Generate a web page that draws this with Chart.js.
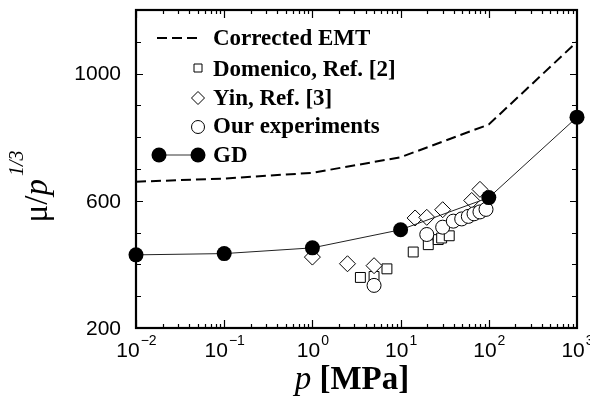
<!DOCTYPE html>
<html>
<head>
<meta charset="utf-8">
<script src="https://cdn.jsdelivr.net/npm/chart.js@4.4.1/dist/chart.umd.min.js"></script>
<style>
  html, body { margin: 0; padding: 0; background: #fff; }
  canvas { display: block; }
</style>
</head>
<body>
<canvas id="chart" width="590" height="396"></canvas>
<script>
// values (p in MPa, y = mu / p^(1/3))
const gdP = [0.01, 0.1, 1, 10, 100, 1000];
const gdVal = [430, 434, 452, 509, 610, 863];

const emtP = [0.01, 0.1, 1, 10, 100, 1000];
const emtVal = [660, 670, 688, 737, 840, 1100];

const domenicoP = [3.5, 5.0, 7.0, 13.9, 20.6, 26.7, 29.2, 35.6];
const domenicoVal = [359, 362, 386, 439, 462, 478, 483, 490];

const yinP = [1.0, 2.5, 5.0, 14.6, 19.8, 30, 64, 79.4];
const yinVal = [423, 402, 396, 546, 548, 572, 601, 636];

const oursP = [5.0, 19.8, 30, 39.6, 49.3, 58.6, 68, 79.4, 93];
const oursVal = [334, 494, 517, 536, 543, 551, 559, 565, 573];

const xDecades = [-2, -1, 0, 1, 2, 3];
const yTicks = [200, 300, 400, 500, 600, 700, 800, 900, 1000, 1100, 1200];
const yLabels = [200, 600, 1000];

const toPoints = (xs, ys) => xs.map((x, i) => ({ x: x, y: ys[i] }));

const SANS = '"Liberation Sans", Arial, sans-serif';
const SERIF = '"Liberation Serif", "Times New Roman", serif';

// frame, inward ticks, labels, titles and legend
const decorPlugin = {
    id: 'decor',
    afterDatasetsDraw(chart) {
        const ctx = chart.ctx;
        const a = chart.chartArea;
        const xs = chart.scales.x;
        const ys = chart.scales.y;
        ctx.save();
        ctx.strokeStyle = '#000';
        ctx.fillStyle = '#000';

        // ticks
        ctx.lineWidth = 1.2;
        ctx.beginPath();
        for (let d = -2; d < 3; d++) {
            for (let m = 1; m < 10; m++) {
                const px = Math.round(xs.getPixelForValue(m * Math.pow(10, d))) + 0.5;
                const len = m === 1 ? 8 : 4;
                ctx.moveTo(px, a.bottom); ctx.lineTo(px, a.bottom - len);
                ctx.moveTo(px, a.top); ctx.lineTo(px, a.top + len);
            }
        }
        yTicks.forEach(v => {
            const py = Math.round(ys.getPixelForValue(v)) + 0.5;
            const len = yLabels.includes(v) ? 7 : 5;
            ctx.moveTo(a.left, py); ctx.lineTo(a.left + len, py);
            ctx.moveTo(a.right, py); ctx.lineTo(a.right - len, py);
        });
        ctx.stroke();

        // frame
        ctx.lineWidth = 2.2;
        ctx.strokeRect(a.left, a.top, a.right - a.left, a.bottom - a.top);

        // y tick labels
        ctx.font = '21px ' + SANS;
        ctx.textAlign = 'right';
        ctx.textBaseline = 'middle';
        yLabels.forEach(v => {
            ctx.fillText(String(v), a.left - 15, ys.getPixelForValue(v) + 1);
        });

        // x tick labels 10^n
        ctx.textBaseline = 'alphabetic';
        ctx.textAlign = 'left';
        xDecades.forEach(e => {
            const px = xs.getPixelForValue(Math.pow(10, e));
            const exp = e < 0 ? '\u2212' + Math.abs(e) : String(e);
            ctx.font = '21px ' + SANS;
            const wb = ctx.measureText('10').width;
            ctx.font = '14px ' + SANS;
            const we = ctx.measureText(exp).width;
            const x0 = px - (wb + we) / 2;
            ctx.font = '21px ' + SANS;
            ctx.fillText('10', x0, a.bottom + 29);
            ctx.font = '14px ' + SANS;
            ctx.fillText(exp, x0 + wb + 1, a.bottom + 17);
        });

        // x title: p [MPa]
        ctx.font = 'italic 33px ' + SERIF;
        const wp = ctx.measureText('p').width;
        ctx.font = 'bold 33px ' + SERIF;
        const wr = ctx.measureText(' [MPa]').width;
        let tx = 352 - (wp + wr) / 2;
        ctx.font = 'italic 33px ' + SERIF;
        ctx.fillText('p', tx, 389);
        ctx.font = 'bold 33px ' + SERIF;
        ctx.fillText(' [MPa]', tx + wp, 389);

        // y title: mu / p^(1/3), rotated
        ctx.save();
        ctx.translate(47, 188);
        ctx.rotate(-Math.PI / 2);
        const parts = [
            { t: '\u03bc', f: '33px ' + SERIF, dy: 0 },
            { t: '/', f: '33px ' + SERIF, dy: 0 },
            { t: 'p', f: 'italic 33px ' + SERIF, dy: 0 },
            { t: '1/3', f: 'italic 20px ' + SERIF, dy: -24 }
        ];
        let total = 0;
        parts.forEach(p => { ctx.font = p.f; p.w = ctx.measureText(p.t).width; total += p.w; });
        let cx = -total / 2;
        parts.forEach(p => {
            ctx.font = p.f;
            ctx.fillText(p.t, cx, p.dy);
            cx += p.w + (p.t === 'p' ? 3 : 0);
        });
        ctx.restore();

        // legend
        ctx.font = 'bold 23px ' + SERIF;
        ctx.lineWidth = 2;
        ctx.setLineDash([10, 5]);
        ctx.beginPath();
        ctx.moveTo(157, 38); ctx.lineTo(197, 38);
        ctx.stroke();
        ctx.setLineDash([]);
        ctx.fillText('Corrected EMT', 213, 45);

        ctx.lineWidth = 1;
        ctx.fillStyle = '#fff';
        ctx.beginPath();
        ctx.rect(194, 64, 8, 8);
        ctx.fill(); ctx.stroke();
        ctx.beginPath();
        ctx.moveTo(198, 91.5); ctx.lineTo(204.5, 98); ctx.lineTo(198, 104.5); ctx.lineTo(191.5, 98); ctx.closePath();
        ctx.fill(); ctx.stroke();
        ctx.beginPath();
        ctx.arc(198, 127, 6.5, 0, Math.PI * 2);
        ctx.fill(); ctx.stroke();

        ctx.fillStyle = '#000';
        ctx.strokeStyle = '#333';
        ctx.beginPath();
        ctx.moveTo(159, 155); ctx.lineTo(198, 155);
        ctx.stroke();
        ctx.beginPath(); ctx.arc(159, 155, 7.5, 0, Math.PI * 2); ctx.fill();
        ctx.beginPath(); ctx.arc(198, 155, 7.5, 0, Math.PI * 2); ctx.fill();

        ctx.fillText('Domenico, Ref. [2]', 213, 76);
        ctx.fillText('Yin, Ref. [3]', 213, 105);
        ctx.fillText('Our experiments', 213, 133);
        ctx.fillText('GD', 213, 162);
        ctx.restore();
    }
};

const openMarker = {
    showLine: false,
    backgroundColor: '#fff',
    borderColor: '#000',
    borderWidth: 1,
    clip: false
};

new Chart(document.getElementById('chart'), {
    type: 'scatter',
    data: {
        datasets: [
            {
                label: 'GD',
                data: toPoints(gdP, gdVal),
                showLine: true,
                borderColor: '#222',
                borderWidth: 1,
                pointRadius: 7.5,
                pointBackgroundColor: '#000',
                pointBorderColor: '#000',
                pointBorderWidth: 0,
                clip: false
            },
            Object.assign({ label: 'Our experiments', data: toPoints(oursP, oursVal), pointStyle: 'circle', pointRadius: 7 }, openMarker),
            Object.assign({ label: 'Yin, Ref. [3]', data: toPoints(yinP, yinVal), pointStyle: 'rectRot', pointRadius: 8 }, openMarker),
            Object.assign({ label: 'Domenico, Ref. [2]', data: toPoints(domenicoP, domenicoVal), pointStyle: 'rect', pointRadius: 7 }, openMarker),
            {
                label: 'Corrected EMT',
                data: toPoints(emtP, emtVal),
                showLine: true,
                borderColor: '#000',
                borderWidth: 2,
                borderDash: [10, 5],
                pointRadius: 0
            }
        ]
    },
    options: {
        responsive: false,
        animation: false,
        layout: { padding: { left: 136, right: 13, top: 10, bottom: 68 } },
        scales: {
            x: { type: 'logarithmic', min: 0.01, max: 1000, display: false },
            y: { type: 'linear', min: 200, max: 1200, display: false }
        },
        plugins: {
            legend: { display: false },
            tooltip: { enabled: false }
        }
    },
    plugins: [decorPlugin]
});
</script>
</body>
</html>
